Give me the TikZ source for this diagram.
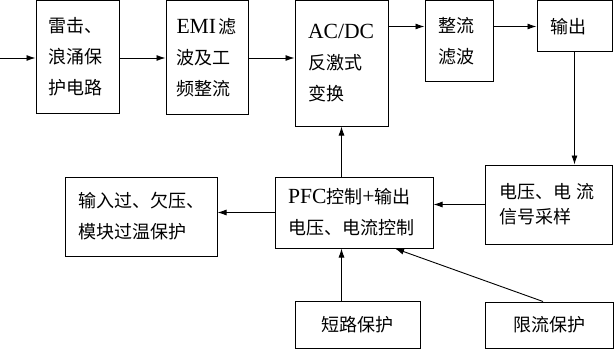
\documentclass[tikz,border=0pt]{standalone}
\usepackage{fontspec}
\setmainfont{Liberation Serif}[Scale=1.2]
\newfontfamily\cjk{Noto Sans CJK SC}
\usetikzlibrary{arrows.meta}

\begin{document}
\begin{tikzpicture}[x=1pt,y=1pt,>={Latex[length=9pt,width=6pt]},line width=0.9pt,
    blk/.style 2 args={draw,line width=1pt,inner xsep=13pt,inner ysep=0pt,
        text width=#1,minimum height=#2,align=left,
        font=\cjk\fontsize{18}{31}\selectfont}]

\useasboundingbox (0,0) rectangle (616,349);

% Top row
\node[blk={57pt}{112pt},inner xsep=12pt,text width=59pt] (surge) at (77.5,292)
    {雷击、\\浪涌保\\护电路};
\node[blk={61pt}{113pt},inner xsep=10.5pt] (emi) at (207,291.5)
    {{\rmfamily EMI}\kern2pt 滤\\波及工\\频整流};
\node[blk={67pt}{125pt}] (acdc) at (341.5,285.5) {{\rmfamily AC/DC}\\反激式\\变换};
\node[blk={42pt}{80pt}] (rect) at (459,308) {整流\\滤波};
\node[blk={49pt}{51pt}] (out) at (574.5,322.5) {输出};

% Bottom rows
\node[blk={99pt}{79pt},inner xsep=14pt,font=\cjk\fontsize{18}{25}\selectfont]
    (samp) at (548.5,144.5) {电压、电 流\\信号采样};
\node[blk={132pt}{71pt}] (pfc) at (354,136.5)
    {{\rmfamily PFC}控制{\rmfamily +}输出\\电压、电流控制};
\node[blk={126pt}{79pt}] (prot) at (141,132.5) {输入过、欠压、\\模块过温保护};
\node[blk={99pt}{47pt},align=center] (short) at (357.5,24.5) {短路保护};
\node[blk={102pt}{46pt},align=center] (limit) at (549,24) {限流保护};

% Connectors
\coordinate (in) at (0,291);
\draw[->] (in) -- (in -| surge.west);
\draw[->] (surge.east |- in) -- (in -| emi.west);
\draw[->] (emi.east |- in) -- (in -| acdc.west);
\draw[->] (acdc.east |- out) -- (rect.west |- out);
\draw[->] (rect.east |- out) -- (out.west);
\draw[->] (out.south) -- (out.south |- samp.north);
\draw[->] (samp.west) -- (samp.west -| pfc.east);
\draw[->] (pfc.west) -- (pfc.west -| prot.east);
\draw[->] (pfc.north -| acdc.south) -- (acdc.south);
\draw[->] (short.north -| acdc.south) -- (pfc.south -| acdc.south);
\draw[->] ([xshift=-6pt]limit.north) -- ([xshift=41pt]pfc.south);

\end{tikzpicture}
\end{document}
